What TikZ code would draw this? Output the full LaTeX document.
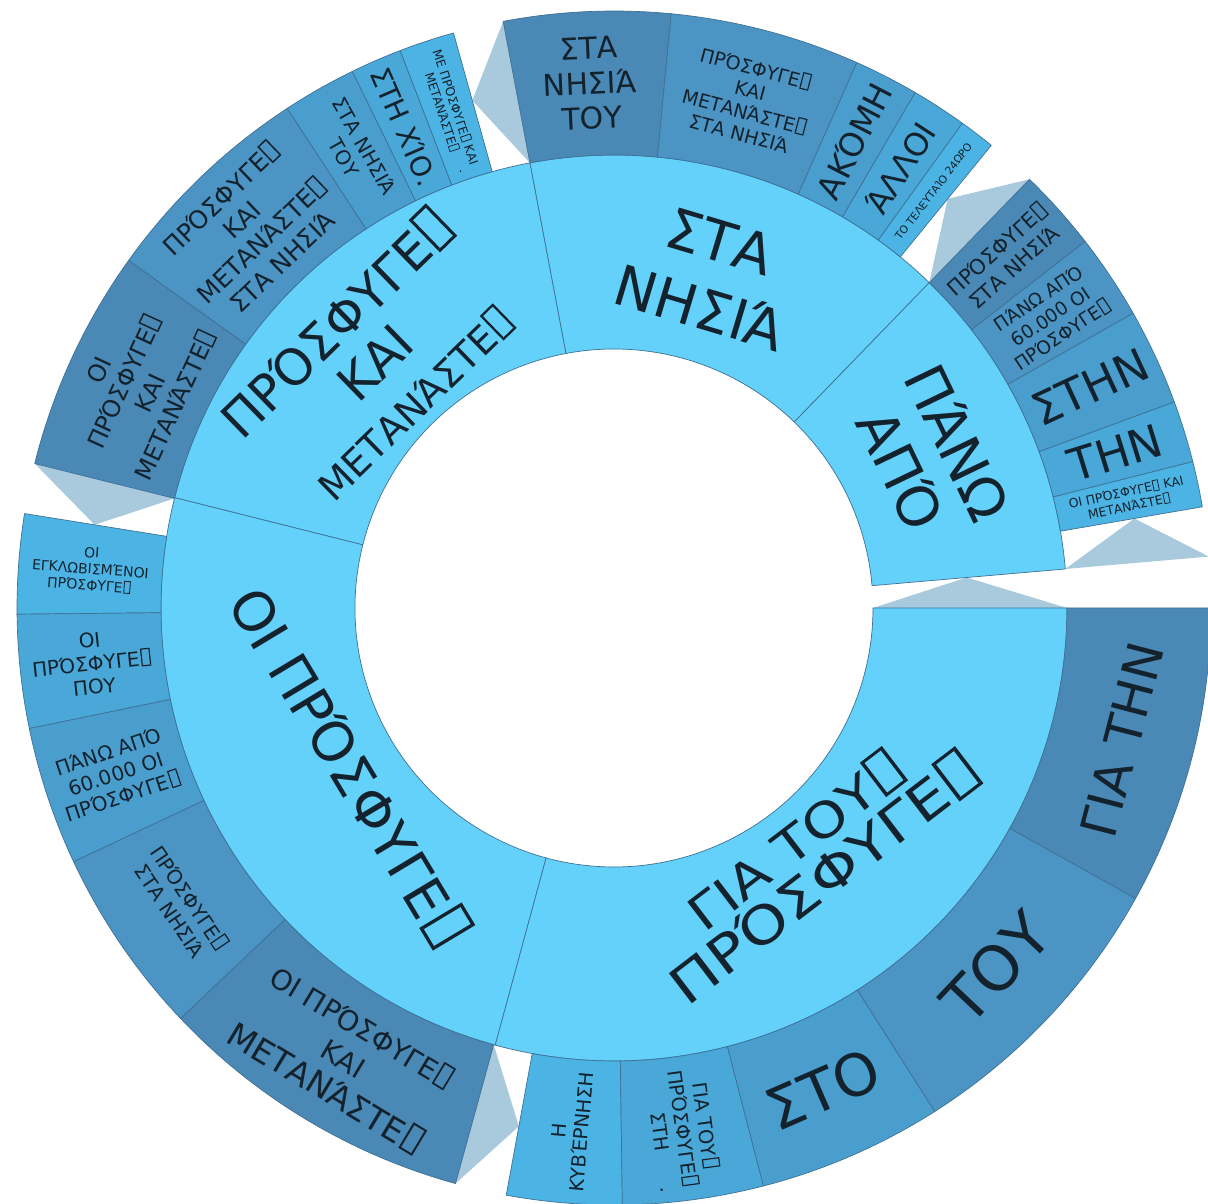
\documentclass[tikz,border=0pt]{standalone}
\usepackage{fontspec}
\setmainfont{DejaVu Sans}
\definecolor{inner}{HTML}{64D1FA}
\definecolor{pale}{HTML}{A9C9DD}
\definecolor{edge}{HTML}{3F7196}
\definecolor{txt}{HTML}{13222C}
\definecolor{cA}{HTML}{4A88B6}
\definecolor{cB}{HTML}{4B94C4}
\definecolor{cC}{HTML}{4A9ECE}
\definecolor{cD}{HTML}{4AA8D8}
\definecolor{cE}{HTML}{4BB4E4}
\newcommand\tf{\kern0.08em\lower0.04em\vbox{\hrule height0.06em\hbox{\vrule width0.06em height0.78em depth0pt\kern0.36em\vrule width0.06em height0.78em depth0pt}\hrule height0.06em}\kern0.06em}
\newcommand\fsz[2]{\fontsize{#1}{#2}\selectfont}
\newcommand\sect[5]{\filldraw[fill=#5,draw=edge,line width=0.7pt,line join=round] (#1:#3) arc[start angle=#1,end angle=#2,radius=#3] -- (#2:#4) arc[start angle=#2,end angle=#1,radius=#4] -- cycle;}
\tikzset{lab/.style={align=center,inner sep=0pt,text=txt}}
\begin{document}
\begin{tikzpicture}[x=1pt,y=1pt]
\useasboundingbox (0,0) rectangle (1208,1204);
\fill[white] (0,0) rectangle (1208,1204);
\begin{scope}[shift={(614,596)}]
% pale gap triangles
\fill[pale] (0:259) -- (4.94:354) -- (0:453) -- cycle;
\fill[pale] (4.94:453) -- (9.76:528) -- (4.94:597) -- cycle;
\fill[pale] (45.9:453) -- (50.8:528) -- (45.9:597) -- cycle;
\fill[pale] (100.7:453) -- (105.6:527) -- (100.7:597) -- cycle;
\fill[pale] (166:453) -- (170.9:526) -- (166:597) -- cycle;
\fill[pale] (254.6:453) -- (259.6:527) -- (254.6:597) -- cycle;
% inner ring
\sect{45.9}{100.7}{259}{453}{inner}
\sect{100.7}{165.9}{259}{453}{inner}
\sect{165.9}{254.8}{259}{453}{inner}
\sect{254.8}{360}{259}{453}{inner}
\sect{4.94}{45.9}{259}{453}{inner}
% outer ring: children of ΣΤΑ ΝΗΣΙΑ
\sect{84.5}{100.7}{453}{597}{cA}
\sect{66}{84.5}{453}{597}{cB}
\sect{59.7}{66}{453}{597}{cC}
\sect{54.3}{59.7}{453}{597}{cD}
\sect{50.8}{54.3}{453}{597}{cE}
% children of ΠΡΟΣΦΥΓΕΣ ΚΑΙ ΜΕΤΑΝΑΣΤΕΣ
\sect{105.6}{111}{453}{597}{cE}
\sect{111}{116}{453}{597}{cD}
\sect{116}{123.2}{453}{597}{cC}
\sect{123.2}{144.4}{453}{597}{cB}
\sect{144.4}{166}{453}{597}{cA}
% children of ΟΙ ΠΡΟΣΦΥΓΕΣ
\sect{170.9}{180.6}{453}{597}{cE}
\sect{180.6}{191.65}{453}{597}{cD}
\sect{191.65}{205.15}{453}{597}{cC}
\sect{205.15}{223.45}{453}{597}{cB}
\sect{223.45}{254.6}{453}{597}{cA}
% children of ΓΙΑ ΤΟΥΣ ΠΡΟΣΦΥΓΕΣ
\sect{259.6}{270.8}{453}{597}{cE}
\sect{270.8}{284.5}{453}{597}{cD}
\sect{284.5}{302.5}{453}{597}{cC}
\sect{302.5}{330.9}{453}{597}{cB}
\sect{330.9}{360}{453}{597}{cA}
% children of ΠΑΝΩ ΑΠΟ
\sect{9.76}{14.2}{453}{597}{cE}
\sect{14.2}{20.2}{453}{597}{cD}
\sect{20.2}{29.6}{453}{597}{cC}
\sect{29.6}{37.9}{453}{597}{cB}
\sect{37.9}{45.9}{453}{597}{cA}
% inner labels
\node[lab,font=\fsz{56}{70},rotate=-16.7] (iA) at (73.9:347) {ΣΤΑ\\ΝΗΣΙΆ};
\node[lab,font={\fsz{50}{54}\lineskiplimit=-60pt},rotate=44.2] (iB) at (134.2:345) {ΠΡΌΣΦΥΓΕ\tf\\ΚΑΙ\\\fsz{38}{54}ΜΕΤΑΝΆΣΤΕ\tf};
\node[lab,font=\fsz{55}{65},rotate=-59] (iC) at (211:307) {ΟΙ ΠΡΌΣΦΥΓΕ\tf};
\node[lab,font={\fsz{52}{48}\lineskiplimit=-60pt},rotate=37.4,xscale=1.2] (iD) at (308:318) {\fsz{48}{48}ΓΙΑ ΤΟΥ\tf\\ΠΡΌΣΦΥΓΕ\tf};
\node[lab,font=\fsz{56}{63},rotate=-64.3] (iE) at (25.7:351) {ΠΆΝΩ\\ΑΠΌ};
% outer labels: A
\node[lab,font=\fsz{30}{35},rotate=2.6] (oA1) at (92.6:525) {ΣΤΑ\\ΝΗΣΙΆ\\ΤΟΥ};
\node[lab,font=\fsz{19}{22.3},rotate=-14.75] (oA2) at (75.25:525) {ΠΡΌΣΦΥΓΕ\tf\\ΚΑΙ\\ΜΕΤΑΝΆΣΤΕ\tf\\ΣΤΑ ΝΗΣΙΆ};
\node[lab,font=\fsz{33}{38},rotate=62.85] (oA3) at (62.85:525) {ΑΚΌΜΗ};
\node[lab,font=\fsz{32}{37},rotate=57] (oA4) at (57:525) {ΆΛΛΟΙ};
\node[lab,font=\fsz{10.7}{12.5},rotate=52.55] (oA5) at (52.55:525) {ΤΟ ΤΕΛΕΥΤΑΊΟ 24ΩΡΟ};
% B
\node[lab,font=\fsz{12.3}{14.4},rotate=-71.7] (oB5) at (108.3:525) {ΜΕ ΠΡΌΣΦΥΓΕ\tf{} ΚΑΙ\\ΜΕΤΑΝΆΣΤΕ\tf};
\node[lab,font=\fsz{12.3}{14.4}] (oB5d) at (-153.3,436.3) {.};
\node[lab,font=\fsz{28}{32},rotate=-66.5] (oB4) at (113.5:525) {ΣΤΗ ΧΊΟ.};
\node[lab,font=\fsz{20}{23.4},rotate=-60.4] (oB3) at (119.6:525) {ΣΤΑ ΝΗΣΙΆ\\ΤΟΥ};
\node[lab,font=\fsz{25}{29.3},rotate=43.8] (oB2) at (133.8:525) {ΠΡΌΣΦΥΓΕ\tf\\ΚΑΙ\\ΜΕΤΑΝΆΣΤΕ\tf\\ΣΤΑ ΝΗΣΙΆ};
\node[lab,font=\fsz{24}{28},rotate=65.2] (oB1) at (155.2:525) {ΟΙ\\ΠΡΌΣΦΥΓΕ\tf\\ΚΑΙ\\ΜΕΤΑΝΆΣΤΕ\tf};
% C
\node[lab,font=\fsz{14}{16.4},rotate=-4.25] (oC5) at (175.75:525) {ΟΙ\\ΕΓΚΛΩΒΙΣΜΈΝΟΙ\\ΠΡΌΣΦΥΓΕ\tf};
\node[lab,font=\fsz{20}{23.4},rotate=6.1] (oC4) at (186.1:525) {ΟΙ\\ΠΡΌΣΦΥΓΕ\tf\\ΠΟΥ};
\node[lab,font=\fsz{20}{23.4},rotate=18.4] (oC3) at (198.4:525) {ΠΆΝΩ ΑΠΌ\\60.000 ΟΙ\\ΠΡΌΣΦΥΓΕ\tf};
\node[lab,font=\fsz{20}{23.4},rotate=-55.7] (oC2) at (214.3:525) {ΠΡΌΣΦΥΓΕ\tf\\ΣΤΑ ΝΗΣΙΆ};
\node[lab,font=\fsz{28}{36},rotate=-31] (oC1) at (239:525) {ΟΙ ΠΡΌΣΦΥΓΕ\tf\\ΚΑΙ\\\fsz{33}{36}ΜΕΤΑΝΆΣΤΕ\tf};
% D
\node[lab,font=\fsz{19.5}{22.8},rotate=85.2] (oD5) at (265.2:525) {Η\\ΚΥΒΈΡΝΗΣΗ};
\node[lab,font=\fsz{19.5}{22.8},rotate=-82.35] (oD4) at (277.65:525) {ΓΙΑ ΤΟΥ\tf\\ΠΡΌΣΦΥΓΕ\tf\\ΣΤΗ};
\node[lab,font=\fsz{19.5}{22.8}] (oD4d) at (47.7,-582) {.};
\node[lab,font=\fsz{58}{66},rotate=23.5] (oD3) at (293.5:525) {ΣΤΟ};
\node[lab,font=\fsz{62}{70},rotate=46.7] (oD2) at (316.7:525) {ΤΟΥ};
\node[lab,font=\fsz{50}{57},rotate=75.45] (oD1) at (345.45:525) {ΓΙΑ ΤΗΝ};
% E
\node[lab,font=\fsz{12.5}{14.6},rotate=12] (oE5) at (12:525) {ΟΙ ΠΡΌΣΦΥΓΕ\tf{} ΚΑΙ\\ΜΕΤΑΝΆΣΤΕ\tf};
\node[lab,font=\fsz{45}{52},rotate=17.2] (oE4) at (17.2:525) {ΤΗΝ};
\node[lab,font=\fsz{45}{52},rotate=24.9] (oE3) at (24.9:525) {ΣΤΗΝ};
\node[lab,font=\fsz{18.5}{21.7},rotate=33.75] (oE2) at (33.75:525) {ΠΆΝΩ ΑΠΌ\\60.000 ΟΙ\\ΠΡΌΣΦΥΓΕ\tf};
\node[lab,font=\fsz{21}{24.6},rotate=41.9] (oE1) at (41.9:525) {ΠΡΌΣΦΥΓΕ\tf\\ΣΤΑ ΝΗΣΙΆ};
\end{scope}
\end{tikzpicture}
\end{document}
